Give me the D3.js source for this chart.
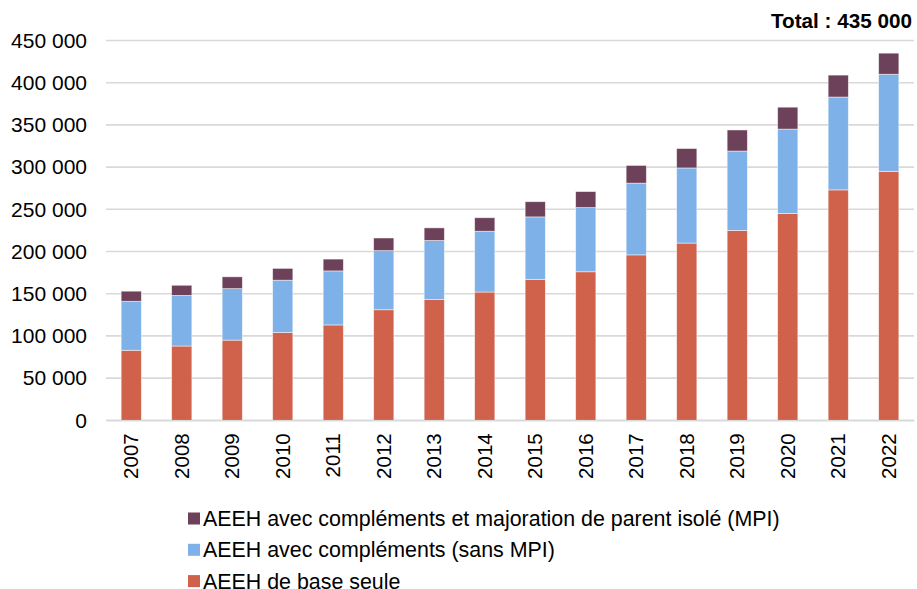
<!DOCTYPE html>
<html>
<head>
<meta charset="utf-8">
<script src="https://cdn.jsdelivr.net/npm/d3@7"></script>
<style>
  html, body { margin: 0; padding: 0; background: #fff; }
  svg { display: block; font-family: "Liberation Sans", Arial, sans-serif; }
</style>
</head>
<body>
<svg id="chart" width="917" height="589"></svg>
<script>
// Nombre de bénéficiaires de l'AEEH par année
const years = ["2007","2008","2009","2010","2011","2012","2013","2014","2015","2016","2017","2018","2019","2020","2021","2022"];
const baseSeule = [83000, 88000, 95000, 104000, 113000, 131000, 143000, 152000, 167000, 176000, 196000, 210000, 225000, 245000, 273000, 295000];
const complementsSansMPI = [58000, 60000, 61000, 62000, 64000, 70000, 70000, 72000, 74000, 76000, 85000, 89000, 94000, 100000, 110000, 115000];
const complementsAvecMPI = [12000, 12000, 14000, 14000, 14000, 15000, 15000, 16000, 18000, 19000, 21000, 23000, 25000, 26000, 26000, 25000];
const yTicks = [0, 50000, 100000, 150000, 200000, 250000, 300000, 350000, 400000, 450000];
const totalLabel = "Total : 435 000";

const seriesNames = [
  "AEEH de base seule",
  "AEEH avec compléments (sans MPI)",
  "AEEH avec compléments et majoration de parent isolé (MPI)"
];
const seriesKeys = ["base", "sans", "mpi"];
const colors = { base: "#D0624B", sans: "#7DB1E7", mpi: "#6D4159" };

const rows = years.map((y, i) => ({
  year: y, base: baseSeule[i], sans: complementsSansMPI[i], mpi: complementsAvecMPI[i]
}));

const svg = d3.select("#chart");
const margin = { left: 106, right: 3, top: 40.5, bottom: 168.7 };
const W = 917, H = 589;

const x = d3.scaleBand().domain(years)
  .range([margin.left, W - margin.right]).paddingInner(0.6).paddingOuter(0.3);
const y = d3.scaleLinear().domain([0, 450000]).range([H - margin.bottom, margin.top]);

const fmt = v => d3.format(",")(v).replace(/,/g, " ");

// Grille horizontale
svg.append("g").selectAll("line").data(yTicks).join("line")
  .attr("x1", margin.left).attr("x2", W - margin.right)
  .attr("y1", d => y(d)).attr("y2", d => y(d))
  .attr("stroke", "#d9d9d9").attr("stroke-width", 1.6);

// Axe Y
const yAxis = svg.append("g")
  .attr("transform", `translate(${margin.left},0)`)
  .call(d3.axisLeft(y).tickValues(yTicks).tickFormat(fmt).tickSize(0).tickPadding(19));
yAxis.select(".domain").remove();
yAxis.selectAll("text").attr("font-size", 21).attr("fill", "#000")
  .attr("font-family", "Liberation Sans, Arial, sans-serif");

// Barres empilées
const stack = d3.stack().keys(seriesKeys)(rows);
svg.append("g").selectAll("g").data(stack).join("g")
  .attr("fill", d => colors[d.key])
  .selectAll("rect").data(d => d).join("rect")
  .attr("x", d => x(d.data.year))
  .attr("width", x.bandwidth())
  .attr("y", d => y(d[1]))
  .attr("height", d => y(d[0]) - y(d[1]))
  .attr("stroke", "#fff").attr("stroke-opacity", 0.6).attr("stroke-width", 0.8);

// Axe X
const xAxis = svg.append("g")
  .attr("transform", `translate(0,${y(0)})`)
  .call(d3.axisBottom(x).tickSize(0).tickPadding(0));
xAxis.select(".domain").attr("stroke", "#d9d9d9").attr("stroke-width", 1.6);
xAxis.selectAll("text")
  .attr("font-size", 20.5).attr("fill", "#000")
  .attr("font-family", "Liberation Sans, Arial, sans-serif")
  .attr("transform", "rotate(-90)")
  .attr("text-anchor", "end")
  .attr("dy", "0.35em")
  .attr("x", -13).attr("y", 0);

// Total
svg.append("text")
  .attr("x", 912).attr("y", 28)
  .attr("text-anchor", "end")
  .attr("font-size", 20.7).attr("font-weight", "bold")
  .text(totalLabel);

// Légende (ordre inverse de l'empilement)
const legendOrder = [2, 1, 0];
const legend = svg.append("g").selectAll("g").data(legendOrder).join("g")
  .attr("transform", (d, i) => `translate(188,${518.5 + i * 31.3})`);
legend.append("rect")
  .attr("x", 0).attr("y", -6).attr("width", 12).attr("height", 12)
  .attr("fill", d => colors[seriesKeys[d]]);
legend.append("text")
  .attr("x", 15).attr("y", 0).attr("dy", "0.35em")
  .attr("font-size", 21.4).attr("fill", "#000")
  .text(d => seriesNames[d]);
</script>
</body>
</html>
